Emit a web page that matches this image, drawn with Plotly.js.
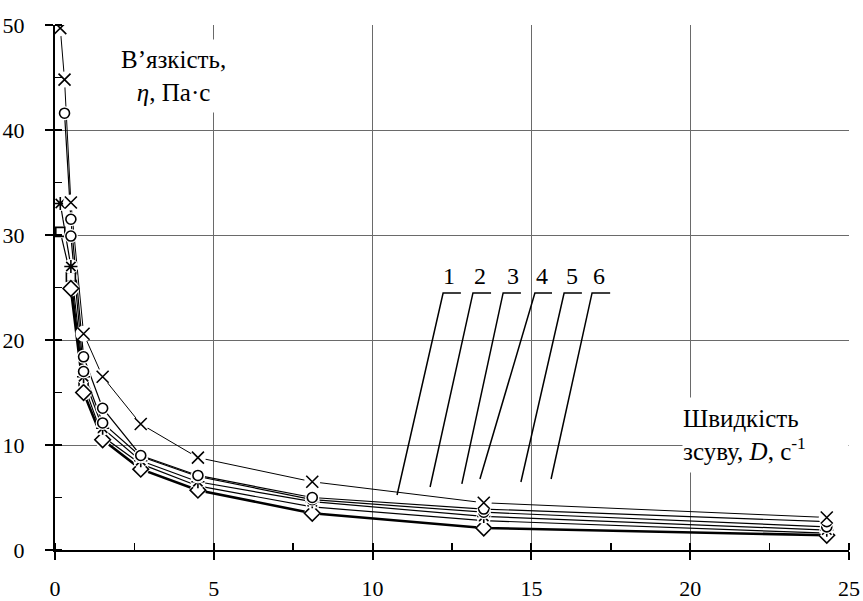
<!DOCTYPE html>
<html>
<head>
<meta charset="utf-8">
<script src="https://cdn.plot.ly/plotly-3.0.1.min.js"></script>
<style>html,body{margin:0;padding:0;background:#fff;}#chart{width:863px;height:601px;}</style>
</head>
<body>
<div id="chart"></div>
<script>
// ---- data ----
const seriesNames = ["1", "2", "3", "4", "5", "6"];
const x1 = [0.1667, 0.3, 0.5, 0.9, 1.5, 2.7, 4.5, 8.1, 13.5, 24.3];
const y1 = [49.7, 44.8, 33.1, 20.6, 16.5, 12.0, 8.8, 6.5, 4.5, 3.1];
const x2 = [0.3, 0.5, 0.9, 1.5, 2.7, 4.5, 8.1, 13.5, 24.3];
const y2 = [41.6, 31.5, 18.4, 13.5, 9.0, 7.1, 5.0, 3.9, 2.7];
const x3 = [0.5, 0.9, 1.5, 2.7, 4.5, 8.1, 13.5, 24.3];
const y3 = [29.9, 17.0, 12.1, 8.9, 7.0, 4.8, 3.6, 2.2];
const x4 = [0.1667, 0.5, 0.9, 1.5, 2.7, 4.5, 8.1, 13.5, 24.3];
const y4 = [33.0, 27.0, 16.5, 11.6, 8.5, 6.5, 4.6, 3.2, 1.9];
const x5 = [0.1667, 0.5, 0.9, 1.5, 2.7, 4.5, 8.1, 13.5, 24.3];
const y5 = [30.3, 26.0, 15.8, 10.8, 8.2, 6.1, 4.1, 2.8, 1.6];
const x6 = [0.5, 0.9, 1.5, 2.7, 4.5, 8.1, 13.5, 24.3];
const y6 = [24.9, 15.0, 10.5, 7.7, 5.7, 3.5, 2.1, 1.4];
const xTicks = [0, 5, 10, 15, 20, 25];
const yTicks = [0, 10, 20, 30, 40, 50];
const yTitle = "В’язкість,<br><i>η</i>, Па·с";
const xTitle = "Швидкість<br>зсуву, <i>D</i>, с<sup>-1</sup>";

// ---- styles ----
const FONT = "'Liberation Serif', 'Times New Roman', serif";
const xs = [x1, x2, x3, x4, x5, x6];
const ys = [y1, y2, y3, y4, y5, y6];
const lineW = [1, 1.2, 1.2, 1.2, 1.2, 2.6];
const symbols = ["x-thin-open", "circle", "circle", "asterisk-open", "square", "diamond"];
const fills = ["#000", "#fff", "#fff", "#000", "#fff", "#fff"];
const sizes = [12, 10, 10, 11, 9, 12];
const drawOrder = [4, 5, 3, 2, 1, 0];

const traces = [];
for (let i = 0; i < 6; i++) {
  traces.push({
    x: xs[i], y: ys[i], type: "scatter", mode: "lines", name: seriesNames[i],
    line: {color: "#000", width: lineW[i], shape: "linear"},
    showlegend: false, hoverinfo: "skip"
  });
}
for (const i of drawOrder) {
  traces.push({
    x: xs[i], y: ys[i], type: "scatter", mode: "markers", showlegend: false, hoverinfo: "skip",
    marker: {symbol: "circle", size: sizes[i] + 4, color: "#fff", line: {width: 0}}
  });
  traces.push({
    x: xs[i], y: ys[i], type: "scatter", mode: "markers", showlegend: false, hoverinfo: "skip",
    marker: {symbol: symbols[i], size: sizes[i], color: fills[i], line: {color: "#000", width: 1.6}}
  });
}
// helper trace so the overlaid (inward tick) axes get drawn
traces.push({x: [], y: [], xaxis: "x2", yaxis: "y2", type: "scatter", mode: "markers", showlegend: false});

// curve labels and their leader lines (annotation geometry, data units)
const labelX = [12.4, 13.38, 14.42, 15.33, 16.28, 17.13];
const leaderTopX = [12.22, 13.16, 14.11, 15.11, 16.03, 16.91];
const leaderEndX = [12.78, 13.73, 14.67, 15.65, 16.59, 17.48];
const leaderBotX = [10.77, 11.81, 12.81, 13.38, 14.67, 15.62];
const leaderBotY = [5.24, 6.0, 6.29, 6.76, 6.48, 6.76];
const leaderTopY = 24.48;
const labelY = 26.1;

const shapes = [];
const annotations = [];
for (let i = 0; i < 6; i++) {
  shapes.push({
    type: "path", xref: "x", yref: "y",
    path: `M ${leaderEndX[i]},${leaderTopY} L ${leaderTopX[i]},${leaderTopY} L ${leaderBotX[i]},${leaderBotY[i]}`,
    line: {color: "#000", width: 1.5}
  });
  annotations.push({
    x: labelX[i], y: labelY, xref: "x", yref: "y", text: seriesNames[i], showarrow: false,
    font: {family: FONT, size: 24, color: "#000"}
  });
}
annotations.push({
  x: 3.72, y: 45.1, xref: "x", yref: "y", text: yTitle, showarrow: false, align: "center",
  bgcolor: "#fff", borderpad: 6, font: {family: FONT, size: 25, color: "#000"}
});
annotations.push({
  x: 19.75, y: 10.95, xref: "x", yref: "y", xanchor: "left", text: xTitle, showarrow: false,
  align: "left", width: 165, height: 74, bgcolor: "#fff", borderpad: 0,
  font: {family: FONT, size: 25, color: "#000"}
});

const axisCommon = {
  showgrid: true, gridcolor: "#6a6a6a", gridwidth: 1, zeroline: false,
  showline: true, linecolor: "#000", linewidth: 2,
  ticks: "outside", ticklen: 8, tickwidth: 2, tickcolor: "#000",
  tickfont: {family: FONT, size: 22, color: "#000"}
};
const layout = {
  width: 863, height: 601,
  margin: {l: 55, r: 14, t: 25, b: 51},
  paper_bgcolor: "#fff", plot_bgcolor: "#fff",
  font: {family: FONT, color: "#000"},
  xaxis: Object.assign({}, axisCommon, {
    range: [0, 25], tickvals: xTicks, ticklabelstandoff: 10,
    minor: {dtick: 2.5, tick0: 0, ticks: "inside", ticklen: 7, tickwidth: 1.5, tickcolor: "#000", showgrid: false}
  }),
  yaxis: Object.assign({}, axisCommon, {
    range: [0, 50], tickvals: yTicks, ticklabelstandoff: 16,
    minor: {dtick: 5, tick0: 0, ticks: "inside", ticklen: 7, tickwidth: 1.5, tickcolor: "#000", showgrid: false}
  }),
  xaxis2: {overlaying: "x", anchor: "y2", side: "bottom", range: [0, 25], tickvals: xTicks,
    ticks: "inside", ticklen: 7, tickwidth: 2, tickcolor: "#000", showticklabels: false,
    showgrid: false, zeroline: false, showline: false},
  yaxis2: {overlaying: "y", anchor: "x2", side: "left", range: [0, 50], tickvals: yTicks,
    ticks: "inside", ticklen: 7, tickwidth: 2, tickcolor: "#000", showticklabels: false,
    showgrid: false, zeroline: false, showline: false},
  shapes: shapes,
  annotations: annotations
};
Plotly.newPlot("chart", traces, layout, {staticPlot: true, displayModeBar: false});
</script>
</body>
</html>
